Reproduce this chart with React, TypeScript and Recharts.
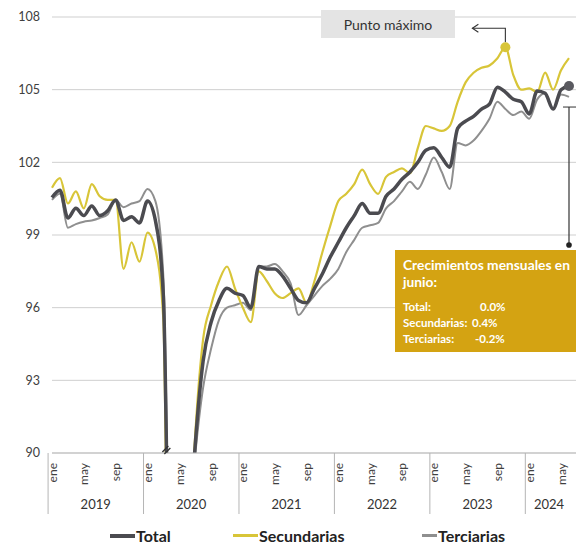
import React from "react";
import { LineChart, Line, XAxis, YAxis, CartesianGrid, ReferenceDot } from "recharts";

const MONTHS = ["ene", "feb", "mar", "abr", "may", "jun", "jul", "ago", "sep", "oct", "nov", "dic"];
const YEARS = [2019, 2020, 2021, 2022, 2023, 2024];
const MONTHS_IN_YEAR = [12, 12, 12, 12, 12, 6];
const SHOWN_MONTHS = ["ene", "may", "sep"];
const Y_TICKS = [90, 93, 96, 99, 102, 105, 108];

// Índice total (2019-01 .. 2024-06)
const totalValues = [
  100.55, 100.85, 99.7, 100.1, 99.8, 100.2, 99.8, 100.0, 100.45, 99.6, 99.75, 99.5,
  100.4, 99.6, 96.5, 80.0, 79.0, 85.0, 90.3, 93.8, 95.4, 96.3, 96.8, 96.6,
  96.5, 96.0, 97.7, 97.6, 97.6, 97.3, 96.8, 96.3, 96.2, 96.8, 97.4, 98.1,
  98.7, 99.3, 99.8, 100.3, 99.9, 99.9, 100.6, 100.9, 101.3, 101.6, 102.0, 102.5,
  102.6, 102.2, 101.8, 103.4, 103.7, 103.9, 104.2, 104.4, 105.1, 104.9, 104.6, 104.5,
  104.0, 104.95, 104.85, 104.2, 105.0, 105.15,
];
// Actividades secundarias
const secundariasValues = [
  100.95, 101.35, 100.3, 100.8, 100.1, 101.1, 100.6, 100.45, 100.45, 97.6, 98.7, 97.9,
  99.1, 98.4, 95.5, 75.0, 76.0, 84.0, 90.7, 94.7, 96.1, 97.1, 97.7, 96.8,
  96.0, 95.4, 97.5, 97.1, 96.6, 96.4, 96.6, 96.8, 96.2, 97.1, 98.3, 99.4,
  100.4, 100.7, 101.1, 101.7, 101.1, 100.7, 101.4, 101.6, 101.75, 101.55, 102.6, 103.5,
  103.4, 103.3, 103.5, 104.5, 105.3, 105.7, 105.9, 106.0, 106.3, 106.75, 105.6, 105.0,
  105.05, 104.9, 105.7, 105.0, 105.8, 106.3,
];
// Actividades terciarias
const terciariasValues = [
  100.45, 100.7, 99.3, 99.45, 99.55, 99.6, 99.7, 99.85, 100.45, 100.15, 100.3, 100.4,
  100.9, 100.4, 97.3, 82.0, 80.0, 86.0, 89.9, 92.7, 94.3, 95.5, 96.0, 96.1,
  96.2, 95.9, 97.7, 97.7, 97.8, 97.5, 97.0, 95.7, 96.1, 96.5, 96.9, 97.2,
  97.6, 98.3, 98.8, 99.3, 99.4, 99.5, 100.1, 100.4, 100.8, 101.2, 100.9, 101.5,
  102.2, 101.6, 100.9, 102.8, 102.7, 102.9, 103.3, 103.8, 104.5, 104.2, 103.95, 104.1,
  103.8, 104.6, 104.85, 104.2, 104.8, 104.7,
];

const GROWTH_LABELS = ["Total:", "Secundarias:", "Terciarias:"];
const GROWTH_VALUES = ["0.0%", "0.4%", "-0.2%"];

type Cat = { key: string; month: string; mi: number; year: number; len: number };
const categories: Cat[] = [];
YEARS.forEach((year, yi) => {
  for (let mi = 0; mi < MONTHS_IN_YEAR[yi]; mi++) {
    categories.push({ key: `${MONTHS[mi]} ${year}`, month: MONTHS[mi], mi, year, len: MONTHS_IN_YEAR[yi] });
  }
});
const catByKey: Record<string, Cat> = {};
categories.forEach((c) => (catByKey[c.key] = c));

const data = categories.map((c, i) => ({
  key: c.key,
  total: totalValues[i],
  sec: secundariasValues[i],
  ter: terciariasValues[i],
}));

const TOTAL_C = "#4b4b50";
const SEC_C = "#d8c538";
const TER_C = "#8f8f8f";
const FONT = "Lato, 'Open Sans', sans-serif";

const W = 576;
const H = 545;
const Y_W = 52;
const PAD_R = 7;
const BAND = (W - Y_W - PAD_R) / categories.length;

const MonthTick = (props: any) => {
  const { x, y, payload } = props;
  const c = catByKey[payload?.value];
  if (!c) return null;
  return (
    <g>
      {SHOWN_MONTHS.includes(c.month) && (
        <text
          transform={`translate(${x},${y + 10}) rotate(-90)`}
          textAnchor="end"
          dominantBaseline="central"
          fontSize={12}
          fill="#404040"
          fontFamily={FONT}
        >
          {c.month}
        </text>
      )}
      {c.mi === 0 && (
        <line x1={x - BAND / 2} x2={x - BAND / 2} y1={y} y2={y + 61} stroke="#b5b5b5" strokeWidth={1} />
      )}
      {c.mi === Math.floor(c.len / 2) - 1 && (
        <text
          x={x + BAND / 2}
          y={y + 51}
          textAnchor="middle"
          dominantBaseline="central"
          fontSize={13}
          fill="#333"
          fontFamily={FONT}
        >
          {c.year}
        </text>
      )}
    </g>
  );
};

const PeakShape = (props: any) => {
  const { cx, cy } = props;
  return (
    <g>
      <polyline points={`${cx},${cy - 5} ${cx},${cy - 19} ${cx - 33},${cy - 19}`} fill="none" stroke="#333" strokeWidth={1.1} />
      <polyline points={`${cx - 27},${cy - 23} ${cx - 33},${cy - 19} ${cx - 27},${cy - 15}`} fill="none" stroke="#333" strokeWidth={1.1} />
      <circle cx={cx} cy={cy} r={5} fill={SEC_C} />
    </g>
  );
};

const EndShape = (props: any) => {
  const { cx, cy } = props;
  return (
    <g>
      <circle cx={cx} cy={cy} r={5} fill="#5a5a60" />
      <line x1={cx - 6} x2={cx + 10} y1={cy + 21} y2={cy + 21} stroke="#333" strokeWidth={1} />
      <line x1={cx} x2={cx} y1={cy + 21} y2={cy + 158} stroke="#333" strokeWidth={1.2} />
      <circle cx={cx} cy={cy + 159} r={2.8} fill="#222" />
    </g>
  );
};

const BreakShape = (props: any) => {
  const { cx, cy } = props;
  return (
    <g stroke="#333" strokeWidth={1.3}>
      <line x1={cx - 1} y1={cy - 1} x2={cx + 5} y2={cy - 7} />
      <line x1={cx + 1} y1={cy + 1} x2={cx + 7} y2={cy - 5} />
    </g>
  );
};

const LegendItem = ({ left, lineW, lineH, color, label }: any) => (
  <div style={{ position: "absolute", left, top: 526, height: 19, display: "flex", alignItems: "center", whiteSpace: "nowrap" }}>
    <div style={{ width: lineW, height: lineH, background: color }} />
    <span style={{ fontWeight: 700, fontSize: 16, lineHeight: "19px", color: "#222", fontFamily: FONT, marginLeft: 1 }}>{label}</span>
  </div>
);

export default function App() {
  return (
    <div style={{ position: "absolute", left: 0, top: 0, width: W, height: H, overflow: "hidden", background: "#fff", fontFamily: FONT }}>
      <LineChart width={W} height={H} data={data} margin={{ top: 17, right: 0, bottom: 20, left: 0 }}>
        <CartesianGrid vertical={false} stroke="#cfcfcf" />
        <XAxis
          dataKey="key"
          interval={0}
          tick={<MonthTick />}
          tickLine={false}
          tickSize={0}
          tickMargin={0}
          height={72}
          padding={{ left: 0, right: PAD_R }}
          axisLine={{ stroke: "#bdbdbd" }}
        />
        <YAxis
          domain={[90, 108]}
          ticks={Y_TICKS}
          allowDataOverflow
          width={Y_W}
          axisLine={false}
          tickLine={false}
          tickSize={0}
          tickMargin={12}
          tick={{ fontSize: 12.5, fill: "#404040", fontFamily: FONT }}
        />
        <Line dataKey="ter" type="monotone" stroke={TER_C} strokeWidth={2} dot={false} isAnimationActive={false} />
        <Line dataKey="sec" type="monotone" stroke={SEC_C} strokeWidth={2.2} dot={false} isAnimationActive={false} />
        <Line dataKey="total" type="monotone" stroke={TOTAL_C} strokeWidth={3.5} dot={false} isAnimationActive={false} />
        <ReferenceDot x={categories[14].key} y={90} r={0} shape={<BreakShape />} />
        <ReferenceDot x={categories[57].key} y={secundariasValues[57]} r={5} shape={<PeakShape />} />
        <ReferenceDot x={categories[65].key} y={totalValues[65]} r={5} shape={<EndShape />} />
      </LineChart>

      <div
        style={{
          position: "absolute", left: 321, top: 10, width: 134, height: 28, background: "#e4e4e4",
          display: "flex", alignItems: "center", justifyContent: "center", fontSize: 14, color: "#333", fontFamily: FONT,
        }}
      >
        Punto máximo
      </div>

      <div
        style={{
          position: "absolute", left: 395, top: 250, width: 190, height: 102, background: "#d4a312",
          color: "#fff", fontFamily: FONT, fontWeight: 700, boxSizing: "border-box", padding: "6px 0 0 8px",
        }}
      >
        <div style={{ fontSize: 13.8, lineHeight: "17px", whiteSpace: "nowrap" }}>Crecimientos mensuales en</div>
        <div style={{ fontSize: 13.8, lineHeight: "17px" }}>junio:</div>
        <div style={{ height: 9 }} />
        {GROWTH_LABELS.map((l, i) => (
          <div key={l} style={{ fontSize: 11.5, lineHeight: "16px", display: "flex", whiteSpace: "nowrap" }}>
            <span style={{ width: i === 0 ? 77 : i === 1 ? 69 : 72 }}>{l}</span>
            <span>{GROWTH_VALUES[i]}</span>
          </div>
        ))}
      </div>

      <LegendItem left={110} lineW={25} lineH={4} color={TOTAL_C} label="Total" />
      <LegendItem left={233} lineW={25} lineH={3} color={SEC_C} label="Secundarias" />
      <LegendItem left={422} lineW={15} lineH={2.5} color={TER_C} label="Terciarias" />
    </div>
  );
}
